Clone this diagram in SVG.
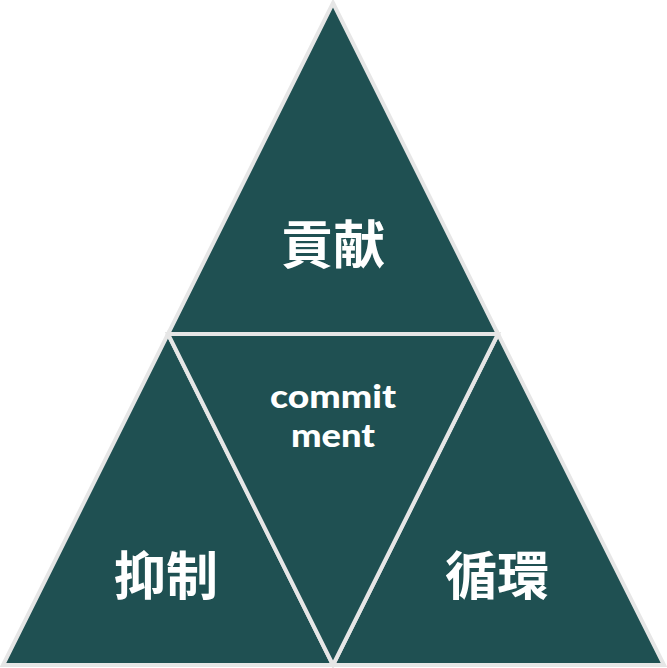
<svg xmlns="http://www.w3.org/2000/svg" width="667" height="668" viewBox="0 0 667 668">
<style>
.tri{fill:#1f5052;stroke:#e6e6e6;stroke-width:4;stroke-linejoin:miter}
.cjk{font-family:"Noto Sans CJK JP","Noto Sans CJK SC",sans-serif;font-weight:700;font-size:52px;fill:#fff;text-anchor:middle}
.en{font-family:Lato,"Open Sans",sans-serif;font-weight:900;font-size:32px;fill:#fff;text-anchor:middle}
</style>
<rect width="667" height="668" fill="#fff"/>
<g id="top"><polygon class="tri" points="333,3 498,334 168,334"/><text class="cjk" x="333" y="264">貢献</text></g>
<g id="left"><polygon class="tri" points="168,334 333,665 3,665"/><text class="cjk" x="166" y="595">抑制</text></g>
<g id="right"><polygon class="tri" points="498,334 664,665 333,665"/><text class="cjk" x="497" y="595">循環</text></g>
<g id="center"><polygon class="tri" points="168,334 498,334 333,665"/><text class="en" x="333" y="408" textLength="126" lengthAdjust="spacingAndGlyphs">commit</text><text class="en" x="333" y="447" textLength="84" lengthAdjust="spacingAndGlyphs">ment</text></g>
<g id="connectors"></g>
</svg>
